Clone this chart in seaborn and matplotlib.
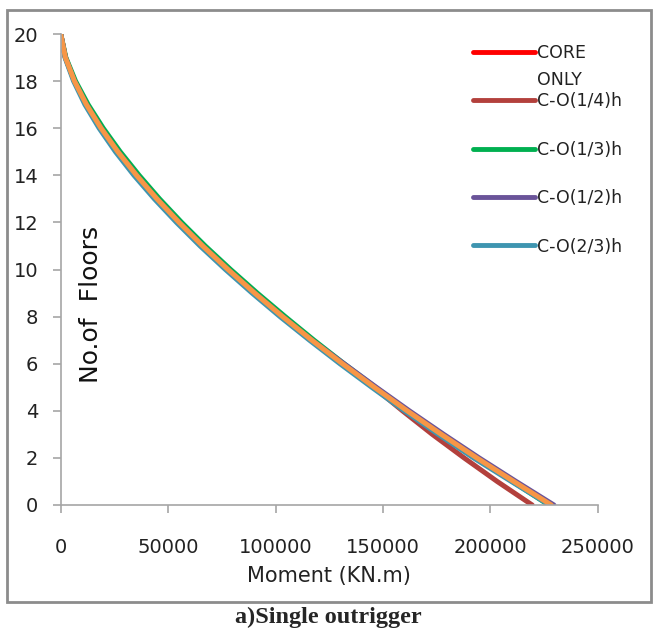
import matplotlib
matplotlib.use("Agg")
import matplotlib.pyplot as plt
from matplotlib.patches import Rectangle
import numpy as np
import pandas as pd
import seaborn as sns

# floors and bending moments (KN.m)
floors = list(range(0, 21))

core_only = [228000, 210600, 193600, 177200, 161300, 146000, 131200, 116900, 103300, 90300,
             77900, 66100, 55100, 44800, 35300, 26600, 18800, 12000, 6400, 2200, 0]
co_quarter = [219500, 203200, 187800, 173000, 159100, 145800, 131200, 116900, 103300, 90300,
              77900, 66100, 55100, 44800, 35300, 26600, 18800, 12000, 6400, 2200, 0]
co_third = [227200, 210300, 193500, 177300, 161500, 146500, 131900, 117900, 104500, 91500,
            79100, 67300, 56300, 46000, 36500, 27700, 19800, 12800, 6900, 2400, 0]
co_half = [229600, 212000, 194800, 178300, 162300, 146900, 131900, 116900, 103300, 90300,
           77900, 66100, 55100, 44800, 35300, 26600, 18800, 12000, 6400, 2200, 0]
co_twothird = [227600, 209800, 192200, 175800, 160000, 144800, 130000, 115800, 102100, 89100,
               76700, 64900, 53900, 43600, 34100, 25500, 17900, 11300, 6000, 2000, 0]
co_last = [228400, 210900, 193700, 177200, 161300, 146000, 131200, 116900, 103300, 90300,
           77900, 66100, 55100, 44800, 35300, 26600, 18800, 12000, 6400, 2200, 0]

series = [
    ("CORE", core_only, "#FF0000"),
    ("C-O(1/4)h", co_quarter, "#B3403C"),
    ("C-O(1/3)h", co_third, "#00B050"),
    ("C-O(1/2)h", co_half, "#6A5499"),
    ("C-O(2/3)h", co_twothird, "#3E95B0"),
    ("_last", co_last, "#F79646"),
]

sns.set_style("white")
plt.rcParams["font.family"] = ["DejaVu Sans"]

W, H = 656, 632
fig = plt.figure(figsize=(W / 100, H / 100), dpi=100)
ax = fig.add_axes([60.7 / W, 1 - 505 / H, (597.7 - 60.7) / W, (505 - 34) / H])

for name, vals, col in series:
    df = pd.DataFrame({"moment": vals, "floor": floors})
    sns.lineplot(data=df, x="moment", y="floor", sort=False, estimator=None,
                 orient="y", color=col, lw=3.6, ax=ax, label=name,
                 solid_capstyle="round")

ax.set_xlim(0, 250000)
ax.set_ylim(0, 20)
ax.set_xticks(np.arange(0, 250001, 50000))
ax.set_yticks(np.arange(0, 21, 2))
ax.set_xticklabels([f"{v:d}" for v in range(0, 250001, 50000)])
for s in ["top", "right"]:
    ax.spines[s].set_visible(False)
for s in ["left", "bottom"]:
    ax.spines[s].set_color("#a6a6a6")
    ax.spines[s].set_linewidth(1.2)
ax.tick_params(axis="both", direction="out", length=6, width=1.2, color="#a6a6a6",
               labelsize=14, labelcolor="#222222", left=True, bottom=True)
ax.tick_params(axis="y", pad=10)
ax.tick_params(axis="x", pad=18)
ax.set_xlabel("Moment (KN.m)", fontsize=15, color="#222222", labelpad=6)
ax.set_ylabel("")
ax.text(91 / W, 1 - 304 / H, "No.of  Floors", rotation=90, fontsize=18,
        color="#111111", ha="center", va="center", transform=fig.transFigure)

handles = ax.get_lines()[:5]
leg = ax.legend(handles=handles, labels=[s[0] for s in series[:5]],
                loc="upper left", bbox_to_anchor=(473 / W, 1 - 44 / H),
                bbox_transform=fig.transFigure, frameon=False, fontsize=12.5,
                handlelength=3.55, handletextpad=0.12, labelspacing=1.75,
                borderpad=0, borderaxespad=0)
for t in leg.get_texts():
    t.set_color("#222222")
for lh in leg.legend_handles:
    lh.set_linewidth(3.5)

fig.canvas.draw()
bb = leg.get_texts()[0].get_window_extent()
fig.text(bb.x0 / W, (bb.y0 - 27) / H, "ONLY", fontsize=12.5, color="#222222",
         ha="left", va="bottom")

fig.patches.append(Rectangle((7 / W, 1 - 602 / H), (651 - 7) / W, (602 - 10) / H,
                             transform=fig.transFigure, fill=False,
                             edgecolor="#8c8c8c", lw=2))
fig.text(0.5, 1 - 617 / H, "a)Single outrigger", ha="center", va="center",
         fontsize=17.5, fontweight="bold", family=["Liberation Serif"])

fig.savefig("out.png", dpi=100)
